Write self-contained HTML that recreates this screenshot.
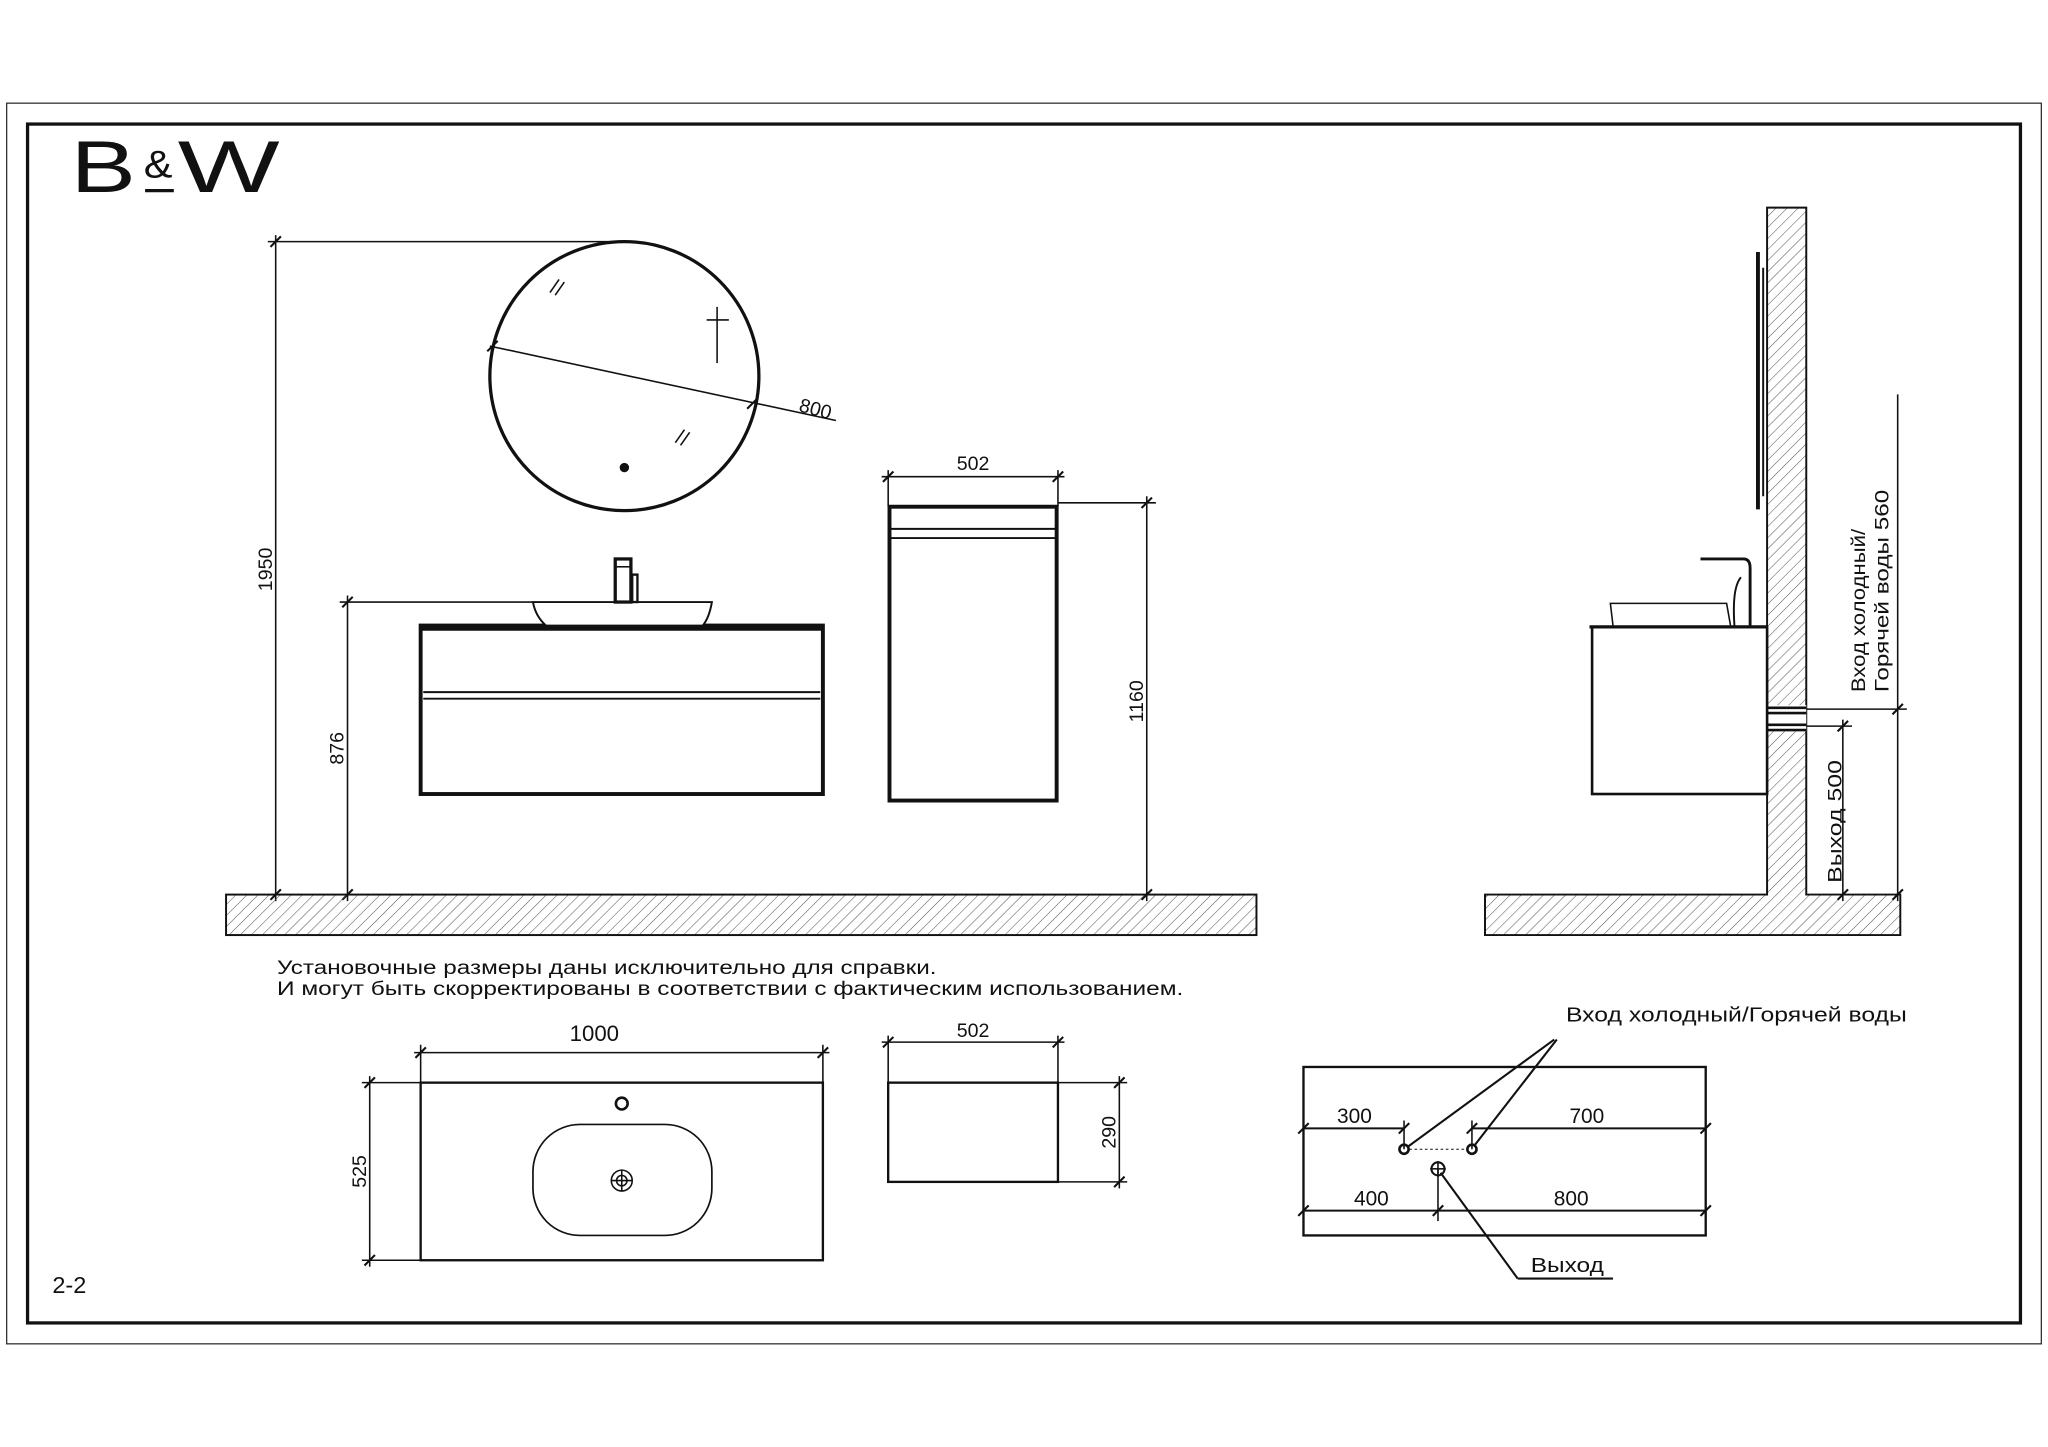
<!DOCTYPE html>
<html><head><meta charset="utf-8"><style>
html,body{margin:0;padding:0;background:#fff;width:2048px;height:1447px;overflow:hidden}
svg{display:block}
text{font-family:"Liberation Sans","DejaVu Sans",sans-serif;fill:#111}
</style></head><body>
<svg width="2048" height="1447" viewBox="0 0 1568 1108" xmlns="http://www.w3.org/2000/svg">
<defs>
<pattern id="h" width="6" height="6" patternUnits="userSpaceOnUse" patternTransform="rotate(45)">
<line x1="0" y1="0" x2="0" y2="6" stroke="#555" stroke-width="0.8"/>
</pattern>
<g id="tk"><line x1="-4" y1="4" x2="4" y2="-4" stroke="#111" stroke-width="1.6"/></g>
</defs>
<rect width="1568" height="1108" fill="#fff"/>
<rect x="5" y="79" width="1558" height="950" fill="none" stroke="#333" stroke-width="1"/>
<rect x="21" y="95" width="1526" height="918" fill="none" stroke="#111" stroke-width="2.5"/>
<text x="54" y="147" font-size="56" textLength="50" lengthAdjust="spacingAndGlyphs">B</text>
<text x="110" y="136" font-size="30" textLength="22" lengthAdjust="spacingAndGlyphs">&amp;</text>
<line x1="111" y1="146" x2="133" y2="146" stroke="#111" stroke-width="2.5"/>
<text x="136" y="147" font-size="56" textLength="78" lengthAdjust="spacingAndGlyphs">W</text>
<text x="40" y="990" font-size="18">2-2</text>

<g stroke="#111" fill="none" stroke-width="1.2">
<circle cx="478" cy="288" r="103" stroke-width="2.5"/>
<line x1="375" y1="265" x2="640" y2="322"/>
<use href="#tk" x="377" y="265"/><use href="#tk" x="576" y="309"/>
<line x1="549" y1="235" x2="549" y2="278"/><line x1="541" y1="245" x2="558" y2="245"/>
<line x1="421" y1="224" x2="428" y2="214"/><line x1="425" y1="226" x2="432" y2="216"/>
<line x1="517" y1="339" x2="524" y2="329"/><line x1="521" y1="341" x2="528" y2="331"/>
<circle cx="478" cy="358" r="3" fill="#111"/>
<line x1="205" y1="185" x2="478" y2="185"/><line x1="211" y1="180" x2="211" y2="690"/>
<use href="#tk" x="211" y="185"/><use href="#tk" x="211" y="685"/>
<line x1="260" y1="461" x2="408" y2="461"/><line x1="266" y1="456" x2="266" y2="690"/>
<use href="#tk" x="266" y="461"/><use href="#tk" x="266" y="685"/>
<rect x="322" y="479" width="308" height="129" stroke-width="3"/>
<line x1="322" y1="481" x2="630" y2="481" stroke-width="4"/>
<line x1="324" y1="530" x2="628" y2="530" stroke-width="1.5"/>
<line x1="324" y1="535" x2="628" y2="535" stroke-width="1.5"/>
<path d="M408 461 L545 461 Q543 473 538 479 L418 479 Q410 472 408 461 Z" fill="#fff" stroke-width="1.5"/>
<rect x="471" y="428" width="12" height="33" stroke-width="2.5" fill="#fff"/>
<line x1="471" y1="434" x2="483" y2="434"/>
<rect x="484" y="440" width="4" height="21" stroke-width="1.8"/>
<rect x="681" y="388" width="128" height="225" stroke-width="3"/>
<line x1="681" y1="405" x2="809" y2="405" stroke-width="1.5"/>
<line x1="681" y1="412" x2="809" y2="412" stroke-width="1.5"/>
<line x1="680" y1="360" x2="680" y2="388"/><line x1="810" y1="360" x2="810" y2="388"/>
<line x1="675" y1="365" x2="815" y2="365"/><use href="#tk" x="680" y="365"/><use href="#tk" x="810" y="365"/>
<line x1="810" y1="385" x2="885" y2="385"/><line x1="878" y1="380" x2="878" y2="690"/>
<use href="#tk" x="878" y="385"/><use href="#tk" x="878" y="685"/>
</g>
<rect x="173" y="685" width="789" height="31" fill="url(#h)" stroke="#111" stroke-width="1.5"/>

<text x="623" y="318" font-size="15" transform="rotate(15 623 318)" text-anchor="middle">800</text>
<text x="208" y="436" font-size="15" transform="rotate(-90 208 436)" text-anchor="middle">1950</text>
<text x="263" y="573" font-size="15" transform="rotate(-90 263 573)" text-anchor="middle">876</text>
<text x="745" y="360" font-size="15" text-anchor="middle">502</text>
<text x="875" y="537" font-size="15" transform="rotate(-90 875 537)" text-anchor="middle">1160</text>

<path d="M1353 159 L1383 159 L1383 685 L1455 685 L1455 716 L1137 716 L1137 685 L1353 685 Z" fill="url(#h)" stroke="#111" stroke-width="1.5"/>
<rect x="1353" y="540" width="30" height="20" fill="#fff"/>
<g stroke="#111" fill="none" stroke-width="1.2">
<line x1="1353" y1="542" x2="1383" y2="542" stroke-width="2"/>
<line x1="1353" y1="546" x2="1383" y2="546" stroke-width="2"/>
<line x1="1353" y1="555" x2="1383" y2="555" stroke-width="2"/>
<line x1="1353" y1="559" x2="1383" y2="559" stroke-width="2"/>
<line x1="1346" y1="193" x2="1346" y2="390" stroke-width="3"/>
<line x1="1350" y1="205" x2="1350" y2="380" stroke-width="1.5"/>
<rect x="1219" y="480" width="134" height="128" stroke-width="2"/>
<line x1="1217" y1="480" x2="1353" y2="480" stroke-width="2.5"/>
<path d="M1235 479 L1233 462 L1322 462 L1325 479" stroke-width="1.2"/>
<path d="M1302 428 L1335 428 Q1340 428 1340 435 L1340 479" stroke-width="2.2"/>
<path d="M1333 442 Q1326 450 1328 479" stroke-width="1.5"/>
<line x1="1383" y1="543" x2="1460" y2="543"/><line x1="1383" y1="556" x2="1418" y2="556"/>
<line x1="1453" y1="302" x2="1453" y2="690"/><line x1="1411" y1="551" x2="1411" y2="690"/>
<use href="#tk" x="1453" y="543"/><use href="#tk" x="1453" y="685"/>
<use href="#tk" x="1411" y="556"/><use href="#tk" x="1411" y="685"/>
</g>
<text x="1428" y="530" font-size="15" transform="rotate(-90 1428 530)" textLength="125" lengthAdjust="spacingAndGlyphs">Вход холодный/</text>
<text x="1446" y="530" font-size="15" transform="rotate(-90 1446 530)" textLength="155" lengthAdjust="spacingAndGlyphs">Горячей воды 560</text>
<text x="1410" y="676" font-size="15" transform="rotate(-90 1410 676)" textLength="94" lengthAdjust="spacingAndGlyphs">Выход 500</text>

<text x="212" y="746" font-size="14.5" textLength="505" lengthAdjust="spacingAndGlyphs">Установочные размеры даны исключительно для справки.</text>
<text x="212" y="762" font-size="14.5" textLength="694" lengthAdjust="spacingAndGlyphs">И могут быть скорректированы в соответствии с фактическим использованием.</text>

<g stroke="#111" fill="none" stroke-width="1.2">
<rect x="322" y="829" width="308" height="136" stroke-width="1.8"/>
<line x1="322" y1="800" x2="322" y2="829"/><line x1="630" y1="800" x2="630" y2="829"/>
<line x1="317" y1="806" x2="635" y2="806"/><use href="#tk" x="322" y="806"/><use href="#tk" x="630" y="806"/>
<line x1="277" y1="829" x2="322" y2="829"/><line x1="277" y1="965" x2="322" y2="965"/>
<line x1="283" y1="824" x2="283" y2="970"/><use href="#tk" x="283" y="829"/><use href="#tk" x="283" y="965"/>
<rect x="408" y="861" width="137" height="85" rx="36" stroke-width="1.3"/>
<circle cx="476" cy="904" r="8"/><circle cx="476" cy="904" r="4"/>
<line x1="468" y1="904" x2="484" y2="904"/><line x1="476" y1="896" x2="476" y2="912"/>
<circle cx="476" cy="845" r="4.5" stroke-width="2"/>
<rect x="680" y="829" width="130" height="76" stroke-width="1.8"/>
<line x1="680" y1="793" x2="680" y2="829"/><line x1="810" y1="793" x2="810" y2="829"/>
<line x1="675" y1="798" x2="815" y2="798"/><use href="#tk" x="680" y="798"/><use href="#tk" x="810" y="798"/>
<line x1="810" y1="829" x2="863" y2="829"/><line x1="810" y1="905" x2="863" y2="905"/>
<line x1="857" y1="824" x2="857" y2="910"/><use href="#tk" x="857" y="829"/><use href="#tk" x="857" y="905"/>
<rect x="998" y="817" width="308" height="129" stroke-width="1.8"/>
<line x1="998" y1="864" x2="1075" y2="864" stroke-width="1.5"/><line x1="1127" y1="864" x2="1306" y2="864" stroke-width="1.5"/>
<line x1="1075" y1="858" x2="1075" y2="880"/><line x1="1127" y1="858" x2="1127" y2="880"/>
<use href="#tk" x="998" y="864"/><use href="#tk" x="1075" y="864"/><use href="#tk" x="1127" y="864"/><use href="#tk" x="1306" y="864"/>
<line x1="998" y1="927" x2="1306" y2="927" stroke-width="1.5"/>
<line x1="1101" y1="895" x2="1101" y2="935"/>
<use href="#tk" x="998" y="927"/><use href="#tk" x="1101" y="927"/><use href="#tk" x="1306" y="927"/>
<circle cx="1075" cy="880" r="3.5" stroke-width="2"/><circle cx="1127" cy="880" r="3.5" stroke-width="2"/>
<line x1="1079" y1="880" x2="1123" y2="880" stroke-dasharray="2 2" stroke-width="0.8"/>
<circle cx="1101" cy="895" r="5" stroke-width="1.6"/><line x1="1095" y1="895" x2="1107" y2="895"/><line x1="1101" y1="889" x2="1101" y2="901"/>
<line x1="1078" y1="878" x2="1190" y2="796" stroke-width="1.6"/><line x1="1129" y1="877" x2="1192" y2="796" stroke-width="1.6"/>
<line x1="1103" y1="898" x2="1162" y2="979" stroke-width="1.6"/><line x1="1162" y1="979" x2="1235" y2="979" stroke-width="1.6"/>
</g>
<text x="455" y="797" font-size="17" text-anchor="middle">1000</text>
<text x="280" y="897" font-size="15" transform="rotate(-90 280 897)" text-anchor="middle">525</text>
<text x="745" y="794" font-size="15" text-anchor="middle">502</text>
<text x="854" y="867" font-size="15" transform="rotate(-90 854 867)" text-anchor="middle">290</text>
<text x="1037" y="860" font-size="16" text-anchor="middle">300</text>
<text x="1215" y="860" font-size="16" text-anchor="middle">700</text>
<text x="1050" y="923" font-size="16" text-anchor="middle">400</text>
<text x="1203" y="923" font-size="16" text-anchor="middle">800</text>
<text x="1199" y="782" font-size="15.5" textLength="261" lengthAdjust="spacingAndGlyphs">Вход холодный/Горячей воды</text>
<text x="1172" y="974" font-size="15.5" textLength="56" lengthAdjust="spacingAndGlyphs">Выход</text>
</svg>
</body></html>
